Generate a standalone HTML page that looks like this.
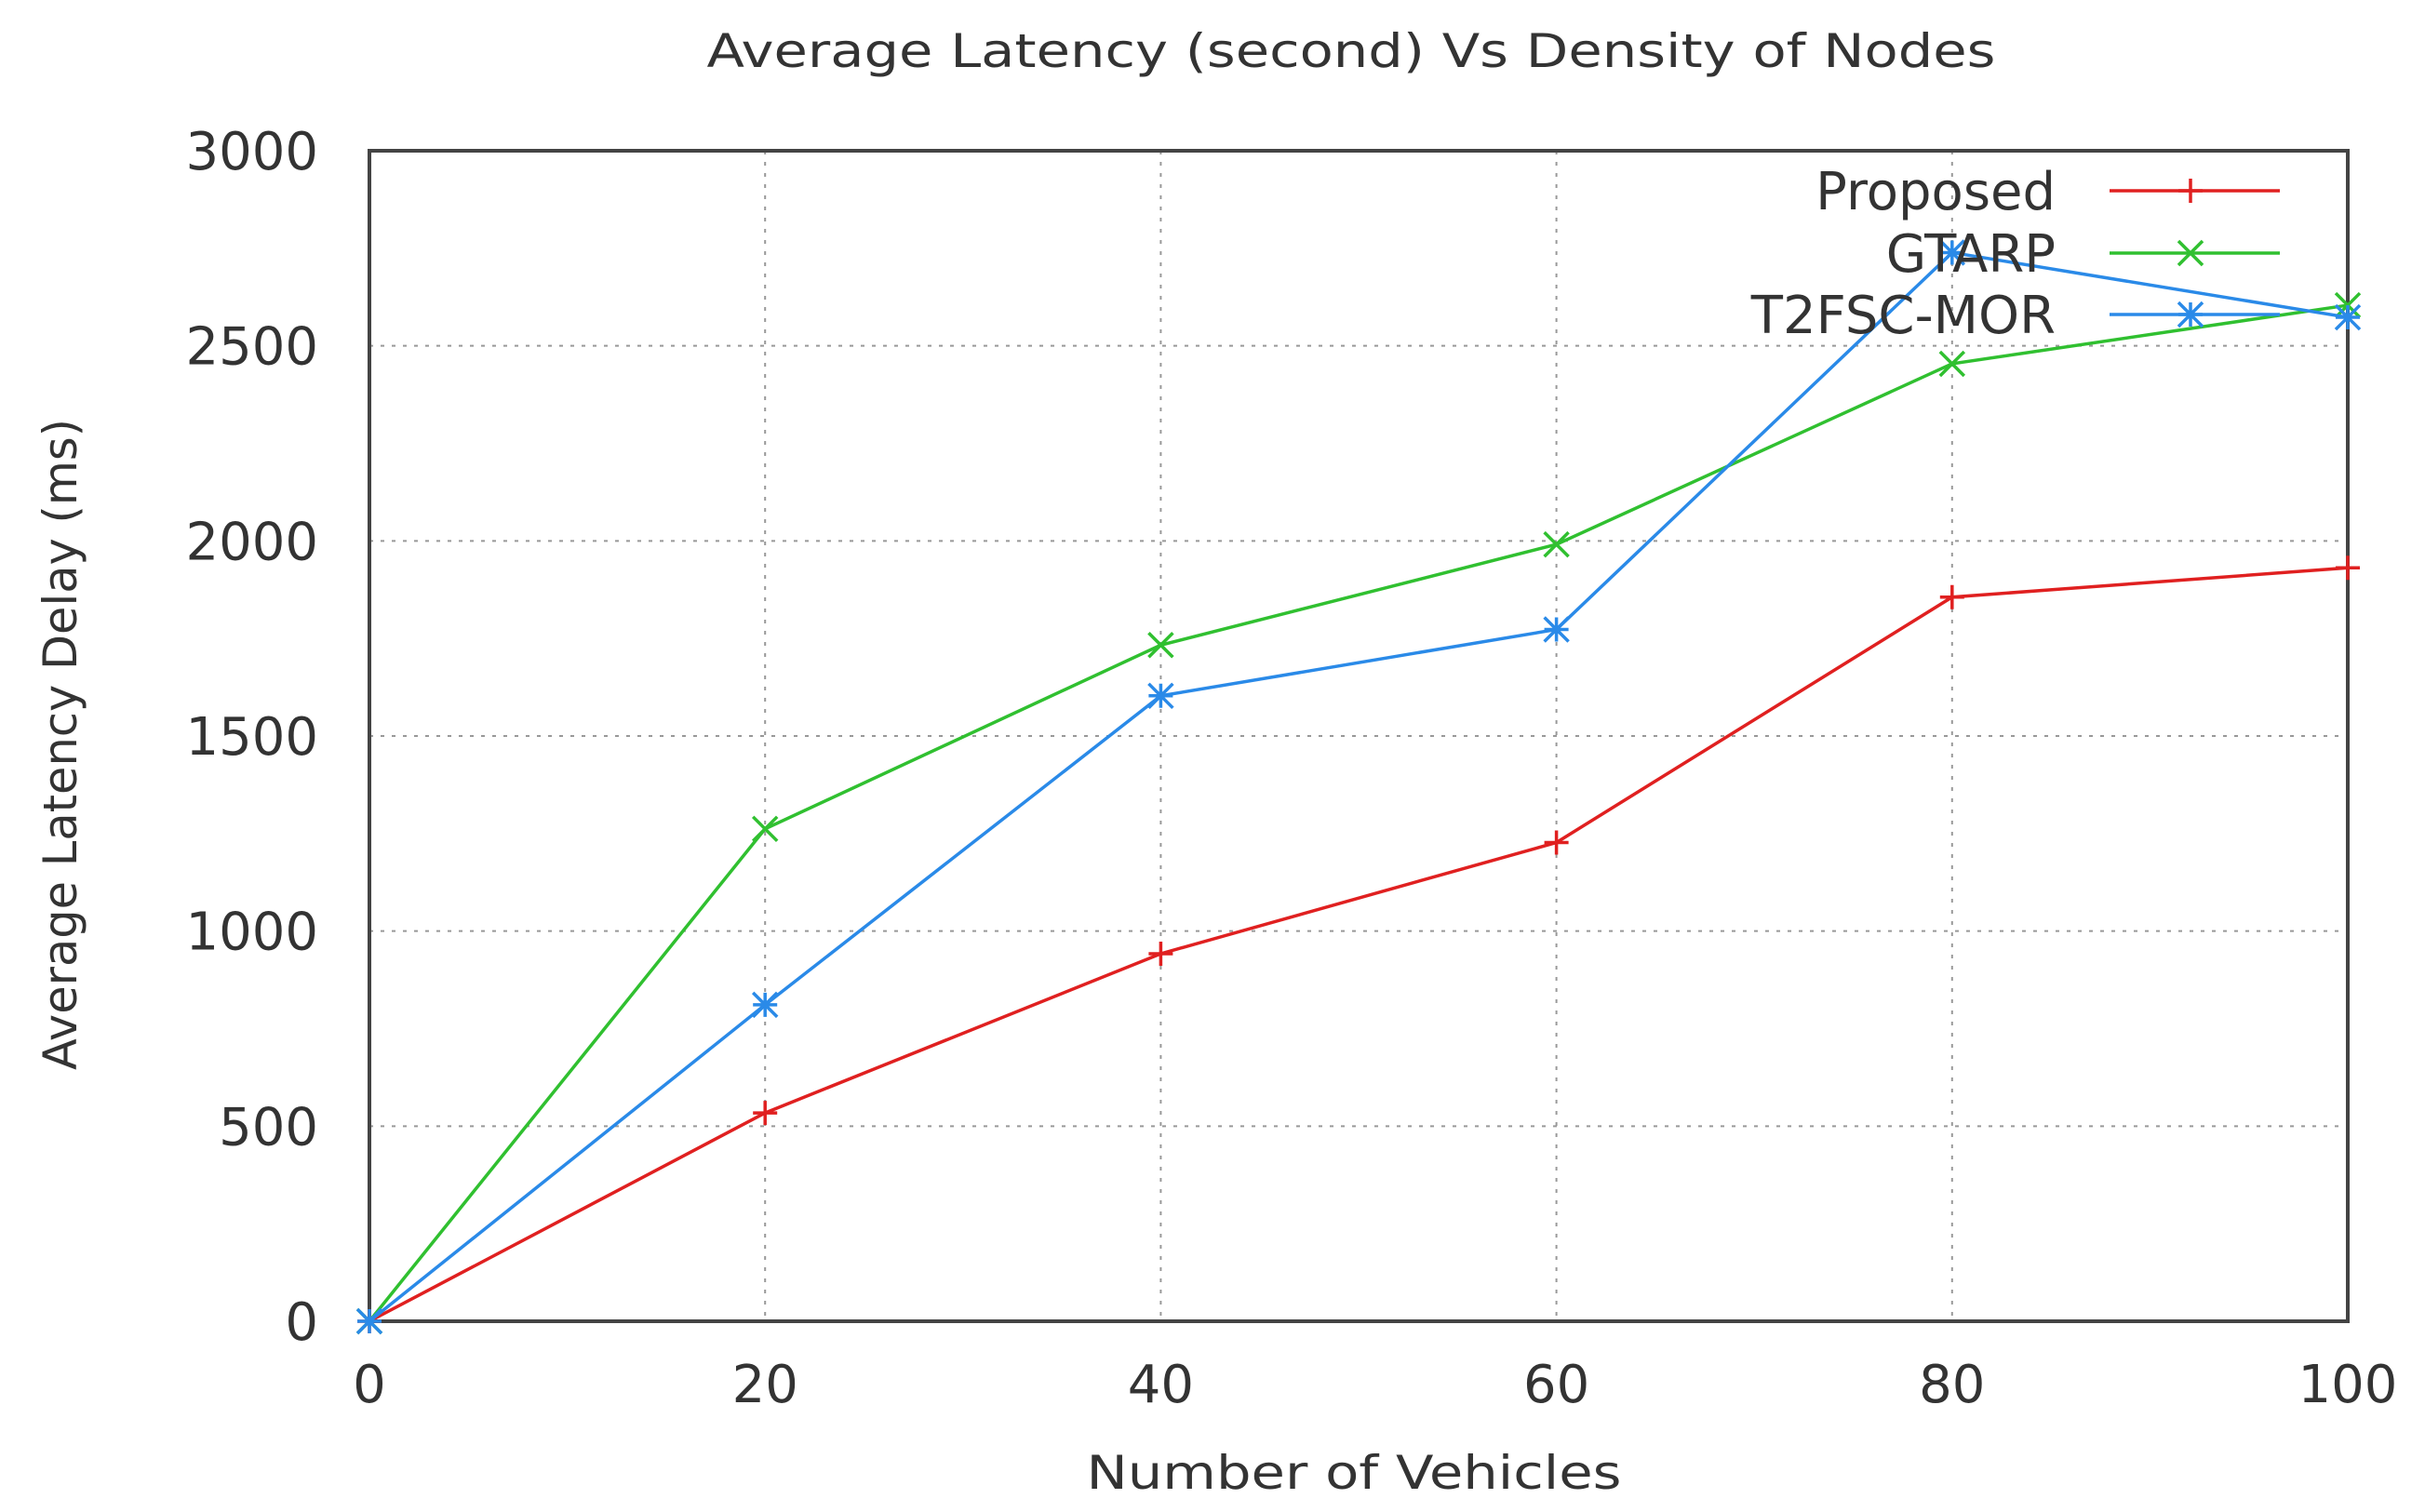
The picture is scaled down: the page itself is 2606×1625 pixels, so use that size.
<!DOCTYPE html>
<html><head><meta charset="utf-8"><style>
html,body{margin:0;padding:0;background:#fff;}
svg{display:block;font-family:"DejaVu Sans","Liberation Sans",sans-serif;}
</style></head><body>
<svg id="chart" width="2606" height="1625" viewBox="0 0 2606 1625" xmlns="http://www.w3.org/2000/svg">
<text x="1452" y="72" font-size="50" fill="#333" text-anchor="middle" textLength="1385" lengthAdjust="spacingAndGlyphs">Average Latency (second) Vs Density of Nodes</text>
<text x="1455" y="1600" font-size="50" fill="#333" text-anchor="middle" textLength="575" lengthAdjust="spacingAndGlyphs">Number of Vehicles</text>
<text transform="translate(82,800) rotate(-90)" font-size="50" fill="#333" text-anchor="middle" textLength="700" lengthAdjust="spacingAndGlyphs">Average Latency Delay (ms)</text>
<g id="grid"></g>
<g id="axes"></g>
<g id="series"></g>
<g id="legend"></g>
</svg>
<script>
const xCats = [0, 20, 40, 60, 80, 100];
const proposed = [0, 534, 942, 1227, 1856, 1931];
const gtarp = [0, 1262, 1733, 1991, 2454, 2604];
const t2fsc = [0, 811, 1603, 1773, 2739, 2573];
const yTicks = [0, 500, 1000, 1500, 2000, 2500, 3000];
const xTicks = [0, 20, 40, 60, 80, 100];
const seriesNames = ["Proposed", "GTARP", "T2FSC-MOR"];

const L=397,R=2523,T=162,B=1420;
const NS="http://www.w3.org/2000/svg";
function X(v){return L+(v-0)/100*(R-L);}
function Y(v){return B-(v-0)/3000*(B-T);}
function mk(tag,attrs,parent){const e=document.createElementNS(NS,tag);for(const k in attrs)e.setAttribute(k,attrs[k]);parent.appendChild(e);return e;}
const grid=document.getElementById('grid'),axes=document.getElementById('axes'),ser=document.getElementById('series'),leg=document.getElementById('legend');

yTicks.forEach(v=>{
  if(v>0&&v<3000){const g=mk('line',{x1:L,x2:R,y1:Y(v),y2:Y(v),stroke:'#999','stroke-width':2,'stroke-dasharray':'4 8'},grid);
  
  }
  const t=mk('text',{x:342,y:Y(v)+20,'font-size':56,fill:'#333','text-anchor':'end'},axes);
  t.textContent=v;
  
  
});
xTicks.forEach(v=>{
  if(v>0&&v<100){const g=mk('line',{x1:X(v),x2:X(v),y1:T,y2:B,stroke:'#999','stroke-width':2,'stroke-dasharray':'4 8'},grid);
  
  }
  const t=mk('text',{x:X(v),y:1507,'font-size':56,fill:'#333','text-anchor':'middle'},axes);
  t.textContent=v;
  
  
});
const frame=mk('rect',{x:L,y:T,width:R-L,height:B-T,fill:'none',stroke:'#444','stroke-width':4},axes);



function marker(type,x,y,color,parent){
  const s=13;let d;
  if(type==='plus')d=`M${x-s} ${y}H${x+s}M${x} ${y-s}V${y+s}`;
  else if(type==='x')d=`M${x-s} ${y-s}L${x+s} ${y+s}M${x-s} ${y+s}L${x+s} ${y-s}`;
  else d=`M${x-s} ${y}H${x+s}M${x} ${y-s}V${y+s}M${x-s} ${y-s}L${x+s} ${y+s}M${x-s} ${y+s}L${x+s} ${y-s}`;
  const p=mk('path',{d:d,stroke:color,'stroke-width':3.5,fill:'none'},parent);
  
  
}
const colors=['#e02020','#30c030','#2a8ae8'];
const types=['plus','x','star'];
const keys=['proposed','gtarp','t2fsc-mor'];
[proposed,gtarp,t2fsc].forEach((arr,i)=>{
  const g=mk('g',{},ser);
  
  
  const pts=arr.map((v,j)=>X(xCats[j])+','+Y(v)).join(' ');
  const pl=mk('polyline',{points:pts,fill:'none',stroke:colors[i],'stroke-width':3.5},g);
  
  
  arr.forEach((v,j)=>marker(types[i],X(xCats[j]),Y(v),colors[i],g));
  const ly=[205,272,338][i];
  const t=mk('text',{x:2209,y:ly+20,'font-size':56,fill:'#333','text-anchor':'end'},leg);
  t.textContent=seriesNames[i];
  
  
  const ln=mk('line',{x1:2267,x2:2450,y1:ly,y2:ly,stroke:colors[i],'stroke-width':3.5},leg);
  
  
  marker(types[i],2354,ly,colors[i],leg);
});
</script>
</body></html>
